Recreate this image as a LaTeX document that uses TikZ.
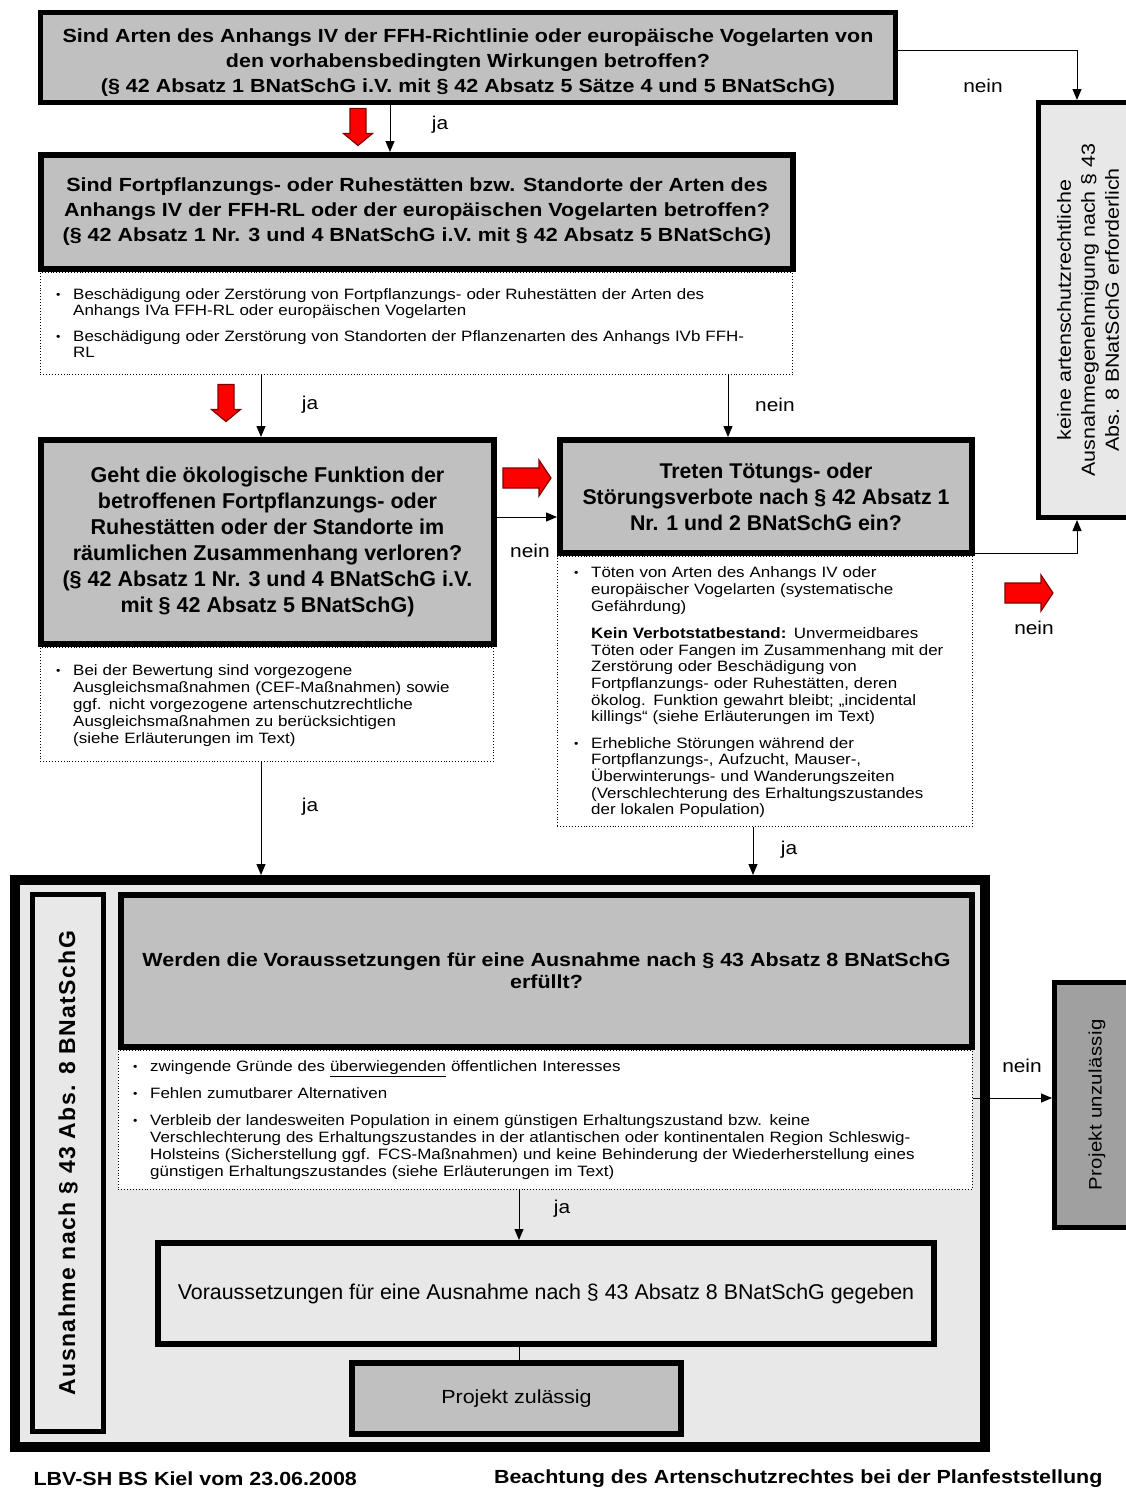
\documentclass[tikz,border=0pt]{standalone}
\usepackage{fontspec}
\setmainfont[FakeStretch=1.13]{Liberation Sans}
\newfontfamily\plainsans{Liberation Sans}
\usetikzlibrary{arrows.meta}

\definecolor{qgray}{RGB}{192,192,192}
\definecolor{lgray}{RGB}{232,232,232}
\definecolor{dgray}{RGB}{160,160,160}
\definecolor{rfill}{RGB}{255,0,0}
\definecolor{rdraw}{RGB}{130,0,0}

\newcommand{\qfont}{\bfseries\fontsize{19}{25}\selectfont}
\newcommand{\nfont}{\fontsize{15}{15.5}\selectfont}
\newcommand{\lfont}{\fontsize{18.5}{20}\selectfont}
\newcommand{\itm}{\par\hangindent=17pt\hangafter=1\noindent\hbox to 17pt{\raisebox{1pt}{\fontsize{11}{11}\selectfont\textbullet}\hss}}
\newcommand{\gap}{\par\vspace{11pt}}

\tikzstyle{frage}=[draw, line width=6pt, fill=qgray, anchor=north west, inner sep=0pt, align=center, font=\qfont]
\tikzstyle{kasten}=[draw, line width=5pt, fill=lgray, anchor=north west, inner sep=0pt]
\tikzstyle{hinweis}=[draw, dotted, line width=0.9pt, fill=white, anchor=north west, inner sep=0pt]
\tikzstyle{htext}=[anchor=north west, inner sep=0pt, align=left, font=\nfont]
\tikzstyle{pfeil}=[draw, line width=1pt, -{Triangle[length=11pt,width=9pt]}]
\tikzstyle{lbl}=[font=\lfont, inner sep=0pt]
\tikzstyle{rot}=[fill=rfill, draw=rdraw, line width=1.2pt]

\begin{document}
\begin{tikzpicture}[x=1pt, y=-1pt]
    \useasboundingbox (0,0) rectangle (1126,1491);
    % Spalten und Zeilen fuer die Verbinder
    \coordinate (c1) at (390,0);
    \coordinate (c2) at (261,0);
    \coordinate (c3) at (728,0);
    \coordinate (c4) at (753,0);
    \coordinate (c5) at (519,0);
    \coordinate (c9) at (1077,0);
    \coordinate (z1) at (0,1098);

    % Rahmen fuer die Ausnahme
    \node[draw, line width=10pt, fill=lgray, anchor=north west, inner sep=0pt,
          minimum width=970pt, minimum height=567pt] (frame) at (10,875) {};

    % Hinweiskaesten
    \node[hinweis, minimum width=752pt, minimum height=102pt] (n2) at (40,272) {};
    \node[hinweis, minimum width=453pt, minimum height=114pt] (n3) at (40,647) {};
    \node[hinweis, minimum width=415pt, minimum height=270pt] (n4) at (557,556) {};
    \node[hinweis, minimum width=854pt, minimum height=139pt] (n5) at (118,1050) {};

    % Fragen
    \node[frage, line width=5pt, minimum width=855pt, minimum height=90pt] (q1) at (38,10) {};
    \node[font=\qfont, align=center, inner sep=0pt] (q1t) at ([yshift=-5pt]q1.center)
        {Sind Arten des Anhangs IV der FFH-Richtlinie oder europäische Vogelarten von\\
         den vorhabensbedingten Wirkungen betroffen?\\
         (§ 42 Absatz 1 BNatSchG i.V. mit § 42 Absatz 5 Sätze 4 und 5 BNatSchG)};
    \node[frage, minimum width=752pt, minimum height=114pt] (q2) at (38,152)
        {Sind Fortpflanzungs- oder Ruhestätten bzw. Standorte der Arten des\\
         Anhangs IV der FFH-RL oder der europäischen Vogelarten betroffen?\\
         (§ 42 Absatz 1 Nr. 3 und 4 BNatSchG i.V. mit § 42 Absatz 5 BNatSchG)};
    \node[frage, font=\plainsans\bfseries\fontsize{21.5}{26}\selectfont, minimum width=453pt, minimum height=204pt] (q3) at (38,437)
        {Geht die ökologische Funktion der\\
         betroffenen Fortpflanzungs- oder\\
         Ruhestätten oder der Standorte im\\
         räumlichen Zusammenhang verloren?\\
         (§ 42 Absatz 1 Nr. 3 und 4 BNatSchG i.V.\\
         mit § 42 Absatz 5 BNatSchG)};
    \node[frage, font=\plainsans\bfseries\fontsize{21.3}{26}\selectfont, minimum width=412pt, minimum height=113pt] (q4) at (557,437)
        {Treten Tötungs- oder\\
         Störungsverbote nach § 42 Absatz 1\\
         Nr. 1 und 2 BNatSchG ein?};
    \node[kasten, line width=5pt, minimum width=71pt, minimum height=537pt] (side) at (30,892) {};
    \node[frage, minimum width=851pt, minimum height=152pt] (q5) at (118,892)
        {Werden die Voraussetzungen für eine Ausnahme nach § 43 Absatz 8 BNatSchG\\[-3pt]
         erfüllt?};
    \node[kasten, line width=6pt, font=\plainsans\fontsize{21.4}{24}\selectfont, minimum width=776pt, minimum height=101pt] (v) at (155,1240)
        {Voraussetzungen für eine Ausnahme nach § 43 Absatz 8 BNatSchG gegeben};
    \node[frage, font=\fontsize{19}{24}\selectfont, minimum width=329pt, minimum height=71pt] (pz) at (349,1360)
        {Projekt zulässig};
    \node[kasten, minimum width=99pt, minimum height=415pt] (keine) at (1036,100) {};
    \node[kasten, fill=dgray, minimum width=85pt, minimum height=245pt] (pu) at (1052,980) {};

    % gedrehte Texte
    \node[rotate=90, align=center, font=\fontsize{19}{24}\selectfont] (keinetxt) at (keine.center)
        {keine artenschutzrechtliche\\Ausnahmegenehmigung nach § 43\\Abs. 8 BNatSchG erforderlich};
    \node[rotate=90, font=\plainsans\bfseries\fontsize{23}{24}\selectfont\addfontfeatures{LetterSpace=6}] (sidetxt) at (side.center)
        {Ausnahme nach § 43 Abs. 8 BNatSchG};
    \node[rotate=90, font=\fontsize{18}{20}\selectfont\addfontfeatures{LetterSpace=2}] (putxt) at (pu.center)
        {Projekt unzulässig};

    % Texte der Hinweiskaesten
    \node[htext, text width=735pt] (n2t) at (56,284)
        {\itm Beschädigung oder Zerstörung von Fortpflanzungs- oder Ruhestätten der Arten des\newline
              Anhangs IVa FFH-RL oder europäischen Vogelarten
         \gap\itm Beschädigung oder Zerstörung von Standorten der Pflanzenarten des Anhangs IVb FFH-\newline RL\par};
    \node[htext, text width=430pt, font=\fontsize{15}{17}\selectfont] (n3t) at (56,658)
        {\itm Bei der Bewertung sind vorgezogene\newline
              Ausgleichsmaßnahmen (CEF-Maßnahmen) sowie\newline
              ggf. nicht vorgezogene artenschutzrechtliche\newline
              Ausgleichsmaßnahmen zu berücksichtigen\newline
              (siehe Erläuterungen im Text)\par};
    \node[htext, text width=400pt, font=\fontsize{15}{16.6}\selectfont] (n4t) at (574,561)
        {\itm Töten von Arten des Anhangs IV oder\newline
              europäischer Vogelarten (systematische\newline
              Gefährdung)
         \gap\hangindent=17pt\hangafter=0\noindent
              \textbf{Kein Verbotstatbestand:} Unvermeidbares\newline
              Töten oder Fangen im Zusammenhang mit der\newline
              Zerstörung oder Beschädigung von\newline
              Fortpflanzungs- oder Ruhestätten, deren\newline
              ökolog. Funktion gewahrt bleibt; „incidental\newline
              killings“ (siehe Erläuterungen im Text)
         \par\vspace{10pt}\itm Erhebliche Störungen während der\newline
              Fortpflanzungs-, Aufzucht, Mauser-,\newline
              Überwinterungs- und Wanderungszeiten\newline
              (Verschlechterung des Erhaltungszustandes\newline
              der lokalen Population)\par};
    \node[htext, text width=840pt, font=\fontsize{15}{17}\selectfont] (n5t) at (133,1054)
        {\itm zwingende Gründe des \underline{überwiegenden} öffentlichen Interesses
         \par\vspace{10pt}\itm Fehlen zumutbarer Alternativen
         \par\vspace{10pt}\itm Verbleib der landesweiten Population in einem günstigen Erhaltungszustand bzw. keine\newline
              Verschlechterung des Erhaltungszustandes in der atlantischen oder kontinentalen Region Schleswig-\newline
              Holsteins (Sicherstellung ggf. FCS-Maßnahmen) und keine Behinderung der Wiederherstellung eines\newline
              günstigen Erhaltungszustandes (siehe Erläuterungen im Text)\par};

    % Verbinder
    \path[pfeil] (q1.south -| c1) -- (q2.north -| c1);
    \path[pfeil] ([yshift=7pt]q1.east) -| (keine.north -| c9);
    \path[pfeil] (n2.south -| c2) -- (q3.north -| c2);
    \path[pfeil] (n2.south -| c3) -- (q4.north -| c3);
    \path[pfeil] ([yshift=25pt]q3.east) -- ([yshift=25pt]q3.east -| q4.west);
    \path[pfeil] ([yshift=3pt]q4.south east) -| (keine.south -| c9);
    \path[pfeil] (n3.south -| c2) -- (frame.north -| c2);
    \path[pfeil] (n4.south -| c4) -- (frame.north -| c4);
    \path[pfeil] (n5.south -| c5) -- (v.north -| c5);
    \draw[line width=1pt] (v.south -| c5) -- (pz.north -| c5);
    \path[pfeil] (n5.east |- z1) -- (pu.west |- z1);

    % ja / nein
    \foreach \pos/\name/\txt in {(440,125)/l1/ja, (983,86)/l2/nein, (310,405)/l3/ja, (775,405)/l4/nein,
                                 (530,551)/l5/nein, (1034,628)/l6/nein, (310,807)/l7/ja, (789,850)/l8/ja,
                                 (562,1209)/l9/ja, (1022,1066)/l10/nein}
        \node[lbl] (\name) at \pos {\txt};

    % rote Pfeile
    \foreach \pos/\ang/\l/\s/\h in {(358,127)/-90/37/16/29, (226,403)/-90/37/16/29,
                                    (527,478)/0/48/20/36, (1029,593)/0/48/20/36}
        \draw[rot, shift={\pos}, rotate=\ang]
            ({-\l/2},{-\s/2}) -- ({\l/2-12},{-\s/2}) -- ({\l/2-12},{-\h/2}) -- ({\l/2},0)
            -- ({\l/2-12},{\h/2}) -- ({\l/2-12},{\s/2}) -- ({-\l/2},{\s/2}) -- cycle;

    % Fusszeile
    \node[anchor=west, font=\bfseries\fontsize{19}{20}\selectfont] (fuss1) at (30,1479) {LBV-SH BS Kiel vom 23.06.2008};
    \node[anchor=east, font=\bfseries\fontsize{19}{20}\selectfont] (fuss2) at (1106,1479) {Beachtung des Artenschutzrechtes bei der Planfeststellung};
\end{tikzpicture}
\end{document}
